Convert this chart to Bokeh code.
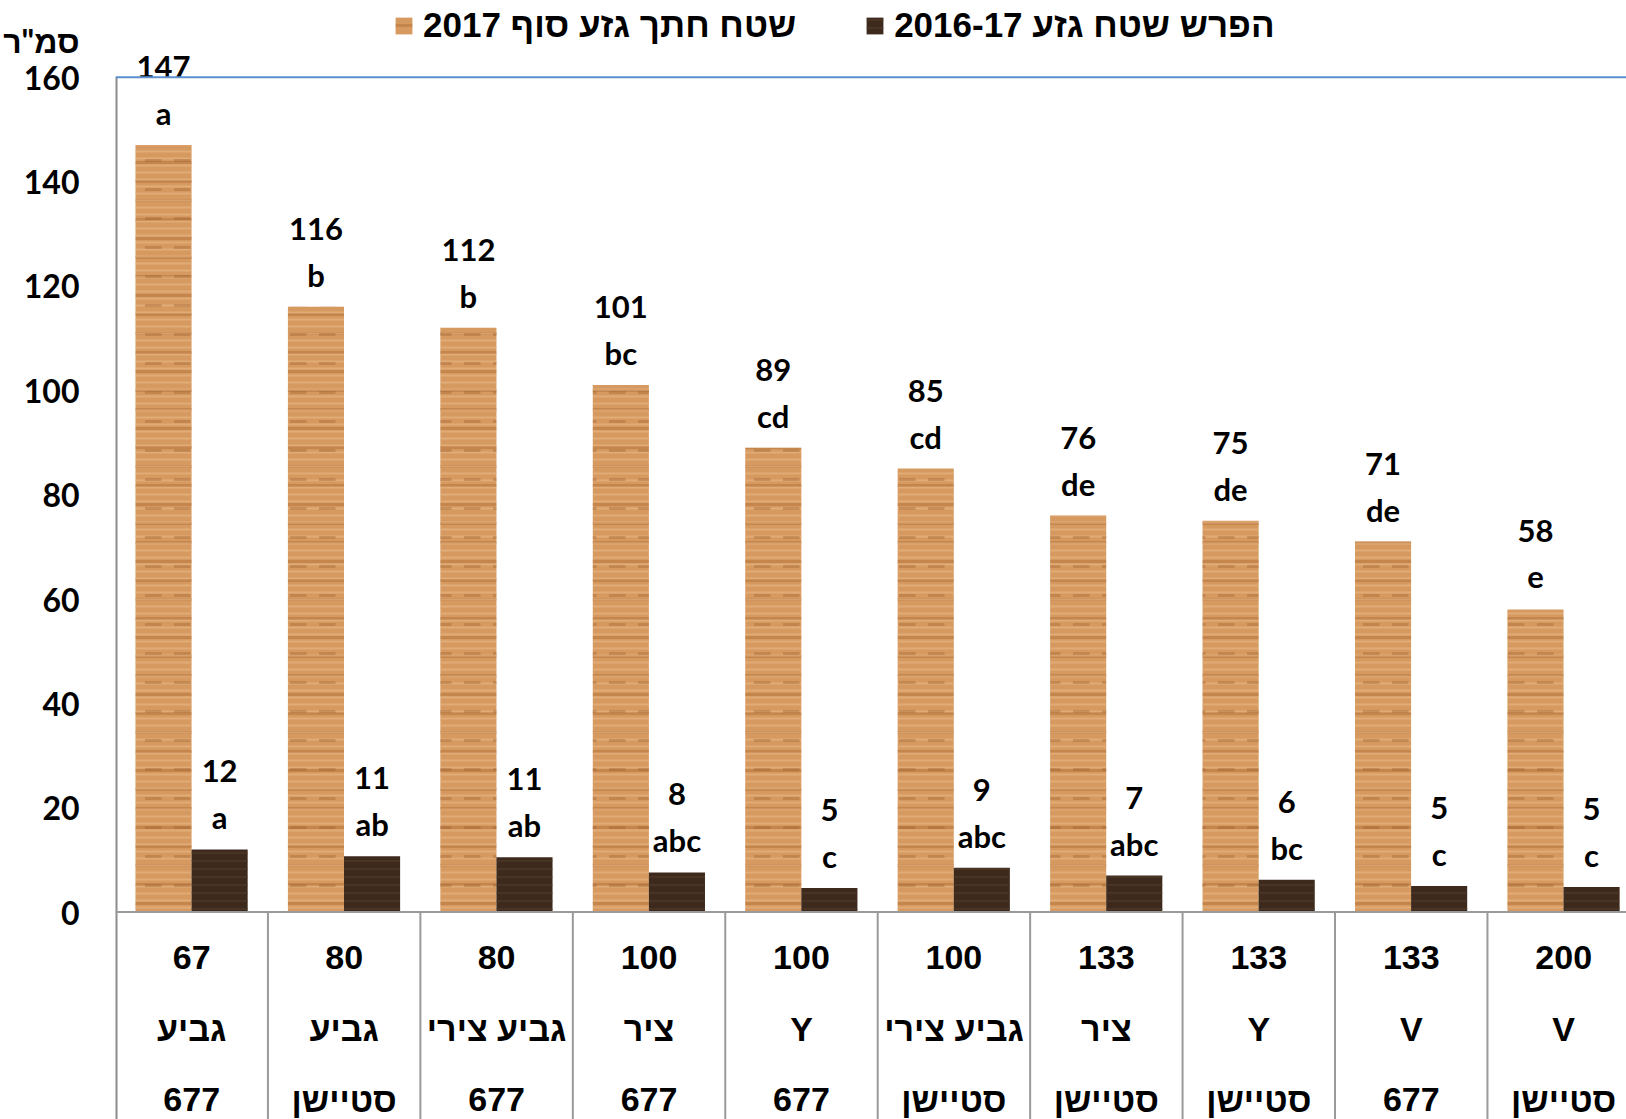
from bokeh.plotting import figure
from bokeh.models import Range1d, FixedTicker, Span, Legend, LegendItem, ColumnDataSource
from bokeh.core.properties import value
from bokeh.transform import dodge
from bokeh.embed import file_html
from bokeh.resources import INLINE
import numpy as np

# ---------------- data ----------------
row1_spacing = ["67", "80", "80", "100", "100", "100", "133", "133", "133", "200"]
row2_system = ["גביע", "גביע", "גביע צירי", "ציר", "Y", "גביע צירי", "ציר", "Y", "V", "V"]
row3_rootstock = ["677", "סטיישן", "677", "677", "677", "סטיישן", "סטיישן", "סטיישן", "677", "סטיישן"]

area_2017 = [147, 116, 112, 101, 89, 85, 76, 75, 71, 58]
area_2017_labels = ["147", "116", "112", "101", "89", "85", "76", "75", "71", "58"]
area_2017_letters = ["a", "b", "b", "bc", "cd", "cd", "de", "de", "de", "e"]

diff_2016_17 = [12, 10.7, 10.5, 7.6, 4.6, 8.5, 7.0, 6.2, 5.0, 4.8]
diff_labels = ["12", "11", "11", "8", "5", "9", "7", "6", "5", "5"]
diff_letters = ["a", "ab", "ab", "abc", "c", "abc", "abc", "bc", "c", "c"]

y_ticks = [0, 20, 40, 60, 80, 100, 120, 140, 160]
legend_labels = ["שטח חתך גזע סוף 2017", "הפרש שטח גזע 2016-17"]
y_unit_label = 'סמ"ר'
Y_UNIT_POS = 167

# ---------------- layout constants ----------------
W, H = 1626, 1119
BORDER_LEFT = 115
FRAME_W = W - BORDER_LEFT
CAT_PX = 152.44
PPU = 834.9 / 160.0           # pixels per unit on y
Y_TOP = 160 + 76.7 / PPU
Y_BOT = -(1119 - 911.6) / PPU
X_START = -0.5
X_END = X_START + FRAME_W / CAT_PX

BAR_W = 0.368
OFF_A = -0.185
OFF_D = 0.183

n = len(area_2017)
x = np.arange(n)
a_arr = np.array(area_2017, dtype=float)
d_arr = np.array(diff_2016_17, dtype=float)
src = ColumnDataSource(dict(
    x=x,
    a=a_arr, a_lbl=area_2017_labels, a_let=area_2017_letters,
    d=d_arr, d_lbl=diff_labels, d_let=diff_letters,
    a_num_y=a_arr + 78 / PPU, a_let_y=a_arr + 32 / PPU,
    d_num_y=d_arr + 78 / PPU, d_let_y=d_arr + 32 / PPU,
    r1=row1_spacing, r2=row2_system, r3=row3_rootstock,
    div=x + 0.5,
))

p = figure(width=W, height=H, x_range=Range1d(X_START, X_END), y_range=Range1d(Y_BOT, Y_TOP),
           output_backend="svg", toolbar_location=None, x_axis_location=None,
           min_border=0, min_border_left=BORDER_LEFT)
p.outline_line_color = None
p.xgrid.visible = False
p.ygrid.visible = False
p.background_fill_color = "white"

ax = p.yaxis[0]
ax.ticker = FixedTicker(ticks=y_ticks + [Y_UNIT_POS])
ax.major_label_overrides = {Y_UNIT_POS: y_unit_label}
ax.axis_line_color = None
ax.major_tick_line_color = None
ax.minor_tick_line_color = None
ax.major_label_text_font = "Lato, Liberation Sans"
ax.major_label_text_font_style = "bold"
ax.major_label_text_font_size = "32px"
ax.major_label_text_color = "black"
ax.major_label_standoff = 30

# axis line (only from 160 down to table bottom)
p.segment(x0=[X_START], y0=[160], x1=[X_START], y1=[Y_BOT], line_color="#8c8c8c", line_width=4)

# bars - wood-like texture with hatch overlays
ORANGE = "#D69A60"
DARK = "#3D2A1C"
r_a = p.vbar(x=dodge("x", OFF_A, range=p.x_range), top="a", bottom=0, width=BAR_W, source=src,
             fill_color=ORANGE, line_color=None,
             hatch_pattern="horizontal_line", hatch_color="#AD6A30", hatch_alpha=0.4,
             hatch_scale=19, hatch_weight=3)
p.vbar(x=dodge("x", OFF_A, range=p.x_range), top="a", bottom=0, width=BAR_W, source=src,
       fill_alpha=0, line_color=None,
       hatch_pattern="horizontal_line", hatch_color="#EBBB8A", hatch_alpha=0.5,
       hatch_scale=7, hatch_weight=2)
p.vbar(x=dodge("x", OFF_A, range=p.x_range), top="a", bottom=0, width=BAR_W, source=src,
       fill_alpha=0, line_color=None,
       hatch_pattern="horizontal_dash", hatch_color="#9C5E2A", hatch_alpha=0.35,
       hatch_scale=29, hatch_weight=3)
r_d = p.vbar(x=dodge("x", OFF_D, range=p.x_range), top="d", bottom=0, width=BAR_W, source=src,
             fill_color=DARK, line_color=None,
             hatch_pattern="horizontal_line", hatch_color="#56402E", hatch_alpha=0.6,
             hatch_scale=8, hatch_weight=1.5)

# value labels
lbl_kw = dict(text_align="center", text_baseline="alphabetic", text_font=value("Lato"),
              text_font_style="bold", text_font_size="31px", text_color="black", source=src)
p.text(x=dodge("x", OFF_A, range=p.x_range), y="a_num_y", text="a_lbl", **lbl_kw)
p.text(x=dodge("x", OFF_A, range=p.x_range), y="a_let_y", text="a_let", **lbl_kw)
p.text(x=dodge("x", OFF_D, range=p.x_range), y="d_num_y", text="d_lbl", **lbl_kw)
p.text(x=dodge("x", OFF_D, range=p.x_range), y="d_let_y", text="d_let", **lbl_kw)

# category table below the axis
p.segment(x0="div", y0=0, x1="div", y1=Y_BOT, source=src, line_color="#9a9a9a", line_width=2)
tbl_kw = dict(text_align="center", text_baseline="alphabetic", text_font=value("Liberation Sans"),
              text_font_style="bold", text_font_size="34px", text_color="black", source=src)
p.text(x="x", y=-(957 - 911.6) / PPU, text="r1", **tbl_kw)
p.text(x="x", y=-(1028 - 911.6) / PPU, text="r2", **tbl_kw)
p.text(x="x", y=-(1099 - 911.6) / PPU, text="r3", **tbl_kw)

p.add_layout(Span(location=0, dimension="width", line_color="#9a9a9a", line_width=2))
p.add_layout(Span(location=160, dimension="width", line_color="#5B8FD0", line_width=2))

legend = Legend(items=[LegendItem(label=legend_labels[0], renderers=[r_a]),
                       LegendItem(label=legend_labels[1], renderers=[r_d])],
                orientation="horizontal", location=(278, 1074),
                glyph_width=21, glyph_height=21, label_standoff=9, spacing=68,
                padding=0, margin=0, border_line_color=None, background_fill_alpha=0,
                label_text_font="Liberation Sans", label_text_font_style="bold",
                label_text_font_size="35px", label_text_color="black")
p.add_layout(legend)

open("out.html", "w").write(file_html(p, INLINE))
